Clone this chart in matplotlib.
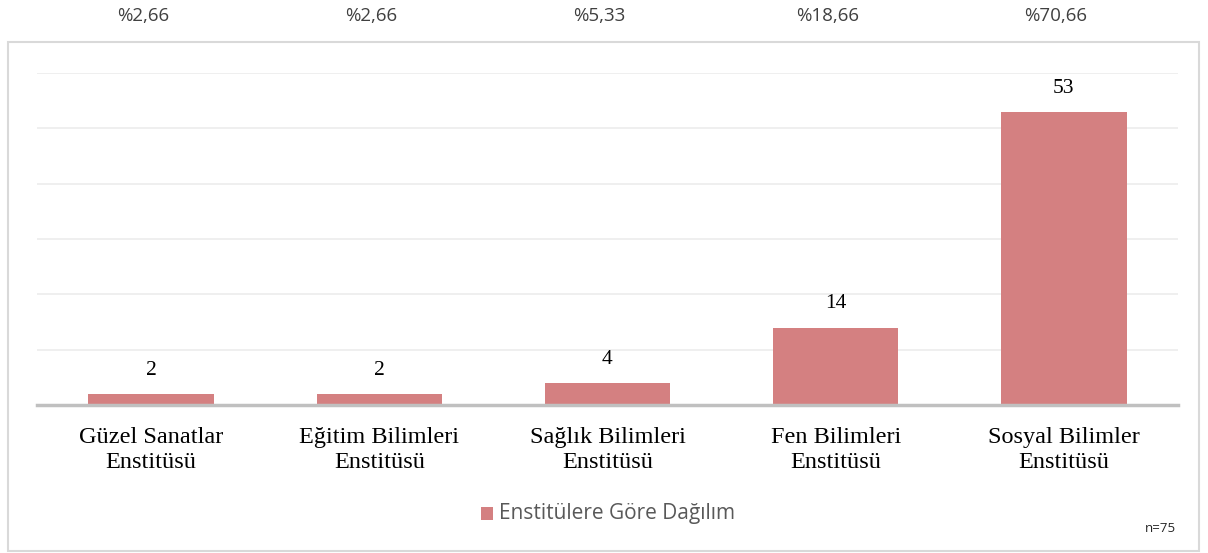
import matplotlib.pyplot as plt
from matplotlib.patches import Rectangle

categories = ["Güzel Sanatlar\nEnstitüsü", "Eğitim Bilimleri\nEnstitüsü", "Sağlık Bilimleri\nEnstitüsü",
              "Fen Bilimleri\nEnstitüsü", "Sosyal Bilimler\nEnstitüsü"]
counts = [2, 2, 4, 14, 53]
percents = ["%2,66", "%2,66", "%5,33", "%18,66", "%70,66"]
series_name = "Enstitülere Göre Dağılım"
note = "n=75"

bar_color = "#d48081"
W, H = 1208, 553

fig = plt.figure(figsize=(W / 100, H / 100), dpi=100)

# chart frame
fig.patches.append(Rectangle((8 / W, 2 / H), 1191 / W, 509 / H, transform=fig.transFigure,
                             fill=False, edgecolor="#d9d9d9", linewidth=1.5))

ax = fig.add_axes([37 / W, (H - 405) / H, 1141 / W, 332 / H])
x = range(len(categories))
ax.bar(x, counts, width=0.55, color=bar_color, zorder=2)
ax.set_xlim(-0.5, len(categories) - 0.5)
ax.set_ylim(0, 60)
ax.set_yticks(range(10, 61, 10))
ax.yaxis.grid(True, color="#ececec", linewidth=1.2, zorder=0)
ax.tick_params(axis="y", left=False, labelleft=False)
ax.tick_params(axis="x", bottom=False, pad=12)
ax.set_xticks(list(x))
ax.set_xticklabels(categories, fontsize=17.5, family="Liberation Serif", linespacing=1.3)
for s in ["top", "right", "left"]:
    ax.spines[s].set_visible(False)
ax.spines["bottom"].set_color("#c0c0c0")
ax.spines["bottom"].set_linewidth(2.5)
ax.spines["bottom"].set_zorder(3)

for i, v in enumerate(counts):
    ax.annotate(str(v), (i, v), xytext=(0, 17), textcoords="offset points",
                ha="center", va="center", fontsize=15.5, family="Liberation Serif")

for i, p in enumerate(percents):
    fig.text((37 + 228.2 * i + 114 - 8) / W, 1 - 16 / H, p, ha="center", va="center",
             fontsize=13.5, family="Open Sans", color="#404040")

# legend
fig.patches.append(Rectangle((481 / W, 1 - 520 / H), 12 / W, 13 / H, transform=fig.transFigure,
                             facecolor=bar_color, edgecolor="none"))
fig.text(499 / W, 1 - 514 / H, series_name, ha="left", va="center", fontsize=15,
         family="Open Sans", color="#595959")
fig.text(1176 / W, 1 - 529 / H, note, ha="right", va="center", fontsize=9.5,
         family="Open Sans", color="#262626")

fig.savefig("out.png", dpi=100)
